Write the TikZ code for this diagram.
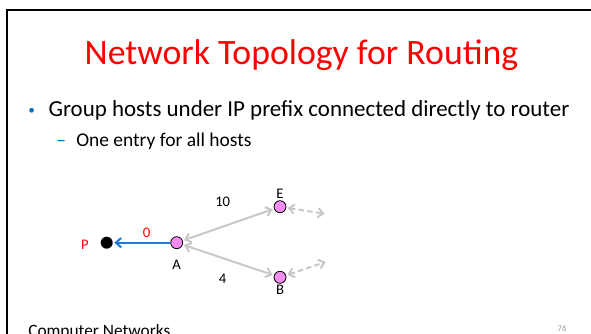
\documentclass[tikz,border=0pt]{standalone}
\usepackage{fontspec}
\setmainfont{Carlito}
\usepackage{xcolor}
\usetikzlibrary{arrows.meta,positioning}
\definecolor{slidered}{HTML}{FF0000}
\definecolor{bulletblue}{HTML}{0070C0}
\definecolor{linkblue}{HTML}{1C7AD8}
\definecolor{linkgray}{HTML}{C8C8C8}
\definecolor{hostpink}{HTML}{F58CF0}
\tikzset{
  host/.style={circle, draw=black, line width=0.6pt, fill=hostpink, minimum size=9pt, inner sep=0pt},
  prefixnode/.style={circle, fill=black, minimum size=9pt, inner sep=0pt},
  hostname/.style={font=\fontsize{11}{13}\selectfont, inner sep=1pt},
  cost/.style={font=\fontsize{11}{13}\selectfont, inner sep=1pt},
  linkarrow/.style={{Straight Barb[length=4pt,width=7pt]}-{Straight Barb[length=4pt,width=7pt]}, linkgray, line width=1.5pt, shorten <=1pt, shorten >=1pt},
  farlink/.style={linkarrow, dashed, dash pattern=on 4pt off 2.5pt},
  prefixarrow/.style={-{Straight Barb[length=4pt,width=7pt]}, linkblue, line width=1.5pt, shorten >=1pt}
}
\begin{document}
\begin{tikzpicture}[x=0.75pt, y=-0.75pt]
\useasboundingbox (0,0) rectangle (591,334);
% slide frame
\draw[line width=1.7pt] (7,334) -- (7,10) -- (591,10);

% title and text
\node[anchor=base, text=slidered, font=\fontsize{26.8}{30}\selectfont, inner sep=0pt] (title) at (301.5,64.3) {Network Topology for Routing};
\node[text=bulletblue, font=\fontsize{10}{12}\selectfont, inner sep=0pt] (dot1) at (31.7,111.2) {•};
\node[anchor=base west, font=\fontsize{17.2}{20}\selectfont, inner sep=0pt] (item1) at (48.3,116.7) {Group hosts under IP prefix connected directly to router};
\node[anchor=base west, text=bulletblue, font=\fontsize{14.6}{17}\selectfont, inner sep=0pt] (dash1) at (56,146.7) {–};
\node[anchor=base west, font=\fontsize{14.6}{17}\selectfont, inner sep=0pt] (item2) at (76,146.7) {One entry for all hosts};

% topology
\node[prefixnode] (p) at (106.7,242.7) {};
\node[host] (a) at (176.7,242.7) {};
\node[host] (e) at (280,206.7) {};
\node[host] (b) at (280,277.3) {};
\coordinate (ex) at (326,214);
\coordinate (bx) at (327,261.5);

\node[hostname, text=slidered] (pname) at (85,245) {P};
\node[hostname, below=7pt of a] (aname) {A};
\node[hostname, above=0pt of e] (ename) {E};
\node[hostname, below=0pt of b] (bname) {B};

\draw[prefixarrow] (a) -- (p);
\draw[linkarrow] (a) -- (e);
\draw[linkarrow] (a) -- (b);
\draw[farlink] (e) -- (ex);
\draw[farlink] (b) -- (bx);

\node[cost, text=slidered] (c0) at (146.7,232.5) {0};
\node[cost] (c10) at (222.7,201.7) {10};
\node[cost] (c4) at (222.7,278.3) {4};

% footer
\node[anchor=base west, font=\fontsize{13}{15}\selectfont, inner sep=0pt] (foot) at (28,336) {Computer Networks};
\node[anchor=base, text=gray!80, font=\fontsize{6.5}{8}\selectfont, inner sep=0pt] (pagenum) at (562,331) {76};
\end{tikzpicture}
\end{document}
